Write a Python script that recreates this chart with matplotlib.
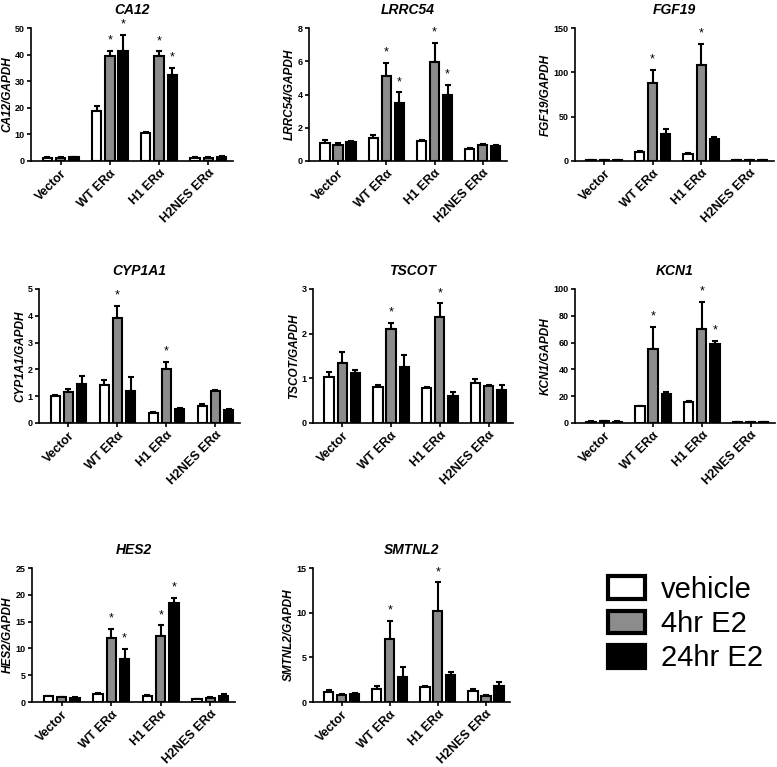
import numpy as np
import matplotlib
matplotlib.use('Agg')
from matplotlib import pyplot as plt
from matplotlib.patches import Patch

plt.rcParams['font.family'] = ['Liberation Sans', 'DejaVu Sans']

groups = ['Vector', 'WT ERα', 'H1 ERα', 'H2NES ERα']
treatments = ['vehicle', '4hr E2', '24hr E2']
colors = ['white', '#8c8c8c', 'black']

# means per treatment (vehicle, 4hr, 24hr) x group, and SEM (upper bar only)
ca12_mean = [[1.2, 18.8, 10.4, 1.2], [1.3, 39.5, 39.3, 1.2], [1.4, 41.5, 32.2, 1.5]]
ca12_err = [[0.2, 1.8, 0.4, 0.2], [0.2, 1.9, 1.9, 0.2], [0.1, 6.0, 2.8, 0.3]]
ca12_star = [(1, 1), (1, 2), (2, 1), (2, 2)]

lrrc54_mean = [[1.08, 1.38, 1.2, 0.72], [0.94, 5.14, 5.96, 0.94], [1.12, 3.5, 3.98, 0.9]]
lrrc54_err = [[0.16, 0.16, 0.04, 0.08], [0.16, 0.76, 1.16, 0.08], [0.06, 0.64, 0.62, 0.06]]
lrrc54_star = [(1, 1), (1, 2), (2, 1), (2, 2)]

fgf19_mean = [[1.0, 10.4, 7.8, 0.8], [1.0, 87.7, 108.2, 1.0], [1.0, 31.0, 24.3, 1.2]]
fgf19_err = [[0.3, 0.6, 0.7, 0.2], [0.3, 14.9, 23.8, 0.2], [0.2, 4.8, 2.6, 0.2]]
fgf19_star = [(1, 1), (2, 1)]

cyp1a1_mean = [[1.02, 1.41, 0.375, 0.65], [1.14, 3.91, 2.0, 1.21], [1.44, 1.19, 0.525, 0.5]]
cyp1a1_err = [[0.03, 0.18, 0.025, 0.06], [0.12, 0.47, 0.28, 0.03], [0.32, 0.53, 0.035, 0.025]]
cyp1a1_star = [(1, 1), (2, 1)]

tscot_mean = [[1.03, 0.81, 0.78, 0.885], [1.34, 2.11, 2.38, 0.825], [1.13, 1.25, 0.61, 0.75]]
tscot_err = [[0.12, 0.045, 0.015, 0.105], [0.24, 0.13, 0.30, 0.015], [0.05, 0.28, 0.08, 0.105]]
tscot_star = [(1, 1), (2, 1)]

kcn1_mean = [[1.0, 12.5, 15.5, 0.5], [1.5, 55.3, 70.3, 0.8], [1.0, 21.5, 59.0, 0.8]]
kcn1_err = [[0.3, 0.5, 0.8, 0.2], [0.3, 16.5, 20.2, 0.2], [0.2, 1.8, 2.3, 0.2]]
kcn1_star = [(1, 1), (2, 1), (2, 2)]

hes2_mean = [[1.06, 1.44, 1.2, 0.5], [0.88, 11.9, 12.4, 0.75], [0.75, 8.1, 18.5, 1.2]]
hes2_err = [[0.14, 0.26, 0.1, 0.06], [0.12, 1.7, 1.9, 0.25], [0.13, 1.8, 0.9, 0.36]]
hes2_star = [(1, 1), (1, 2), (2, 1), (2, 2)]

smtnl2_mean = [[1.09, 1.5, 1.69, 1.2], [0.82, 7.09, 10.24, 0.71], [0.94, 2.81, 3.07, 1.84]]
smtnl2_err = [[0.3, 0.3, 0.11, 0.22], [0.12, 1.98, 3.16, 0.11], [0.07, 1.13, 0.31, 0.41]]
smtnl2_star = [(1, 1), (2, 1)]

panels = [
    ('CA12', ca12_mean, ca12_err, ca12_star, 50, 10),
    ('LRRC54', lrrc54_mean, lrrc54_err, lrrc54_star, 8, 2),
    ('FGF19', fgf19_mean, fgf19_err, fgf19_star, 150, 50),
    ('CYP1A1', cyp1a1_mean, cyp1a1_err, cyp1a1_star, 5, 1),
    ('TSCOT', tscot_mean, tscot_err, tscot_star, 3, 1),
    ('KCN1', kcn1_mean, kcn1_err, kcn1_star, 100, 20),
    ('HES2', hes2_mean, hes2_err, hes2_star, 25, 5),
    ('SMTNL2', smtnl2_mean, smtnl2_err, smtnl2_star, 15, 5),
]

# axes boxes in pixels: left, right, top, bottom
W, H = 777, 767
boxes = [(31, 233, 28, 161), (309, 507, 28, 161), (575, 774, 28, 161),
         (39, 240, 289, 423), (313, 513, 289, 423), (575, 775, 289, 423),
         (32, 235, 568, 702), (313, 510, 568, 702)]

fig = plt.figure(figsize=(W / 100, H / 100), dpi=100)
x = np.arange(len(groups))
offs = [-0.27, 0, 0.27]

for (gene, mean, err, stars, ymax, step), (l, r, t, b) in zip(panels, boxes):
    ax = fig.add_axes([l / W, 1 - b / H, (r - l) / W, (b - t) / H])
    for k in range(3):
        ax.bar(x + offs[k], mean[k], 0.19, color=colors[k], edgecolor='black',
               linewidth=1.5, zorder=3)
        ax.errorbar(x + offs[k], mean[k], yerr=[np.zeros(4), err[k]], fmt='none',
                    ecolor='black', elinewidth=1.5, capsize=2.5, capthick=1.5, zorder=2)
    for g, k in stars:
        ax.annotate('*', (x[g] + offs[k], mean[k][g] + err[k][g]), xytext=(0, 3),
                    textcoords='offset points', ha='center', va='bottom', fontsize=9)
    ax.set_xlim(-0.6, 3.5)
    ax.set_ylim(0, ymax)
    ax.set_yticks(np.arange(0, ymax + step / 2, step))
    ax.set_xticks(x)
    ax.set_xticklabels(groups, rotation=45, ha='right', rotation_mode='anchor',
                       fontsize=9, fontweight='bold')
    for lab in ax.get_yticklabels():
        lab.set_fontweight('bold')
        lab.set_fontsize(6.5)
    ax.spines['top'].set_visible(False)
    ax.spines['right'].set_visible(False)
    ax.spines['left'].set_linewidth(1.2)
    ax.spines['bottom'].set_linewidth(1.2)
    ax.tick_params(axis='both', width=1.2, length=3, pad=1.5)
    ax.set_title(gene, fontsize=10, fontweight='bold', style='italic', pad=10)
    ax.set_ylabel(gene + '/GAPDH', fontsize=8.5, fontweight='bold', style='italic', labelpad=1)

handles = [Patch(facecolor=c, edgecolor='black', linewidth=3) for c in colors]
fig.legend(handles, treatments, loc='upper left', bbox_to_anchor=(596 / W, 1 - 564 / H),
           frameon=False, fontsize=21, handlelength=1.27, handleheight=0.8,
           handletextpad=0.55, labelspacing=0.22, borderaxespad=0)

fig.savefig('out.png', dpi=100)
